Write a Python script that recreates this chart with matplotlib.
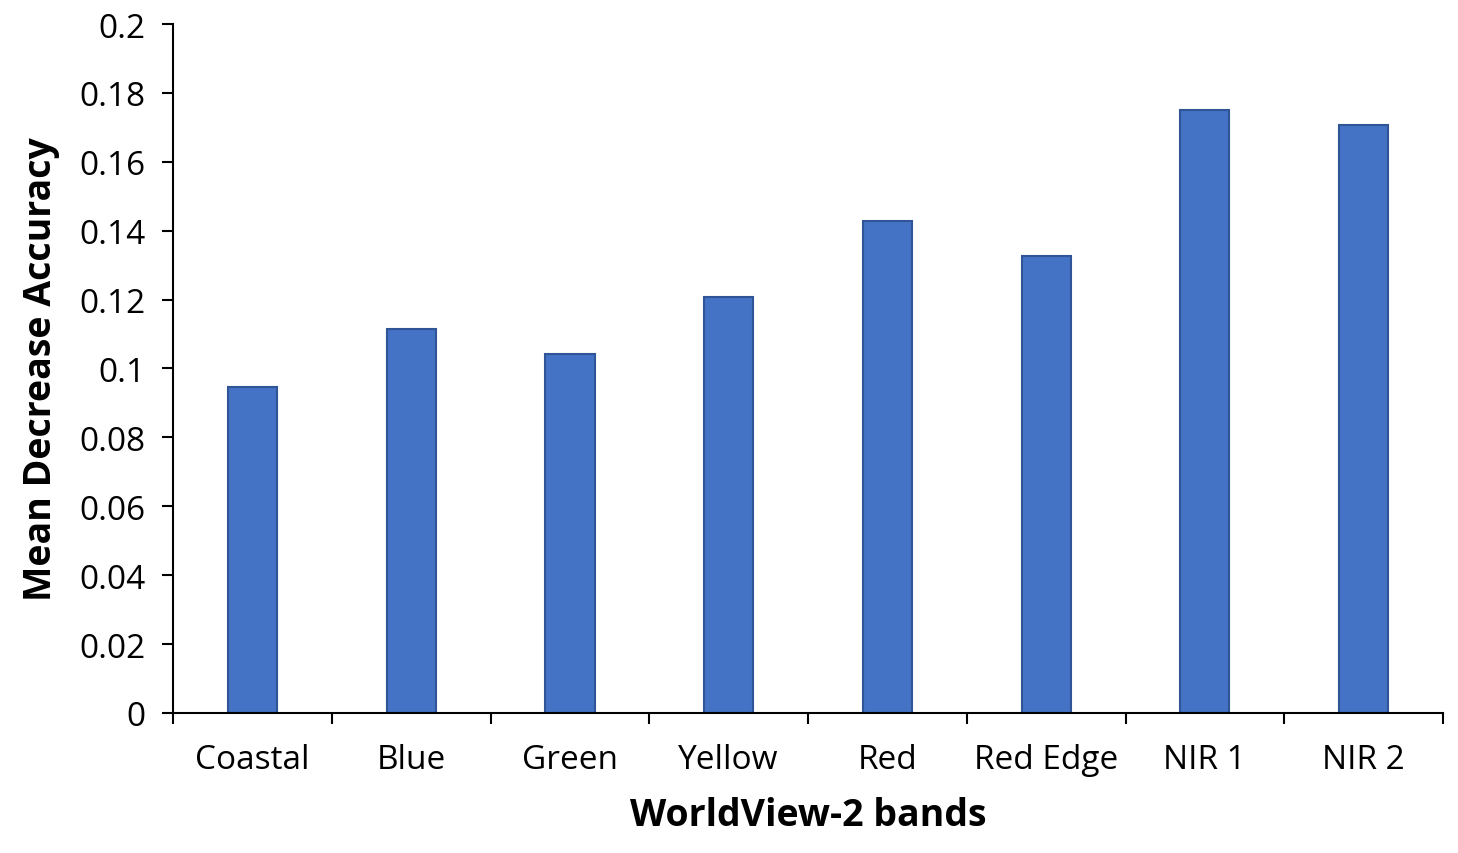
import matplotlib
matplotlib.use('Agg')
import matplotlib.pyplot as plt
import numpy as np

plt.rcParams['font.family'] = ['Open Sans', 'DejaVu Sans']

bands = ['Coastal', 'Blue', 'Green', 'Yellow', 'Red', 'Red Edge', 'NIR 1', 'NIR 2']
mda = [0.0946, 0.1115, 0.1042, 0.1208, 0.1428, 0.1327, 0.1750, 0.1707]

fig = plt.figure(figsize=(14.58, 8.54), dpi=100)
ax = fig.add_axes([0.1187, 0.164, 0.871, 0.8067])

x = np.arange(len(bands))
ax.bar(x, mda, width=0.31, color='#4472C4', edgecolor='#2F5597', linewidth=1.5)

ax.set_xlim(-0.5, len(bands) - 0.5)
ax.set_ylim(0, 0.2)
ax.set_yticks(np.arange(0, 0.201, 0.02))
ax.set_yticklabels(['0', '0.02', '0.04', '0.06', '0.08', '0.1', '0.12', '0.14', '0.16', '0.18', '0.2'])

# category labels at centres, tick marks between categories
ax.set_xticks(x)
ax.set_xticklabels(bands)
ax.tick_params(axis='x', length=0, pad=22, labelsize=24)
ax.set_xticks(np.arange(-0.5, len(bands)), minor=True)
ax.tick_params(axis='x', which='minor', length=8, width=1.5, direction='out')
ax.tick_params(axis='y', length=8, width=1.5, direction='out', labelsize=24, pad=12)

for s in ['top', 'right']:
    ax.spines[s].set_visible(False)
for s in ['left', 'bottom']:
    ax.spines[s].set_linewidth(1.5)

ax.set_xlabel('WorldView-2 bands', fontsize=27, fontweight='bold', labelpad=14)
ax.set_ylabel('Mean Decrease Accuracy', fontsize=27, fontweight='bold', labelpad=14)

fig.savefig('out.png', dpi=100)
